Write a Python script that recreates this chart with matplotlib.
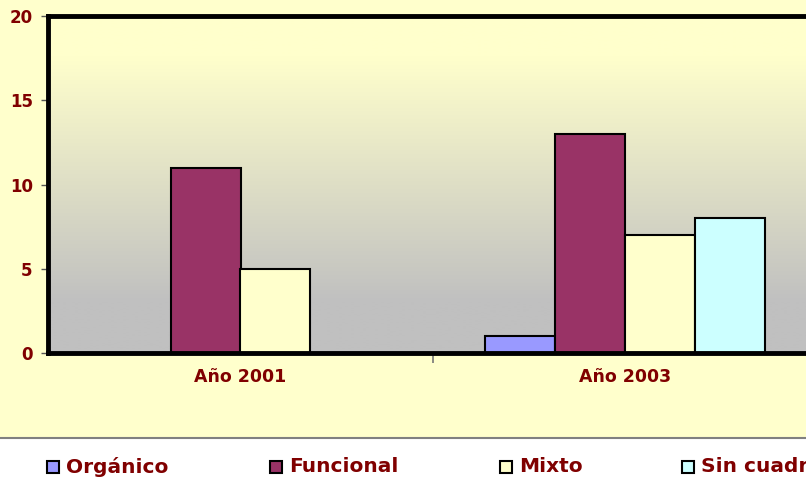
import numpy as np
import matplotlib
matplotlib.use("Agg")
import matplotlib.pyplot as plt
from matplotlib.patches import Rectangle
from matplotlib.colors import LinearSegmentedColormap
from matplotlib.lines import Line2D

# Data
categories = ["Año 2001", "Año 2003"]
series = ["Orgánico", "Funcional", "Mixto", "Sin cuadro"]
organico = [0, 1]
funcional = [11, 13]
mixto = [5, 7]
sin_cuadro = [0, 8]
y_ticks = [0, 5, 10, 15, 20]

values = [organico, funcional, mixto, sin_cuadro]
colors = ["#9999FF", "#993366", "#FFFFCC", "#CCFFFF"]
text_color = "#800000"

W, H = 806, 478
fig = plt.figure(figsize=(W / 100, H / 100), dpi=100)
fig.patch.set_facecolor("white")

# Yellow chart area with grey bottom border
bg = Rectangle((0, (H - 437) / H), 1, 437 / H, transform=fig.transFigure,
               facecolor="#FFFFCC", edgecolor="none", zorder=-2)
fig.patches.append(bg)
fig.add_artist(Line2D([0, 1], [(H - 437.5) / H] * 2, transform=fig.transFigure,
                      color="#808080", lw=1.5, zorder=-1))

left, right, top, bottom = 48, 818, 16, 353
ax = fig.add_axes([left / W, (H - bottom) / H, (right - left) / W, (bottom - top) / H])
ax.set_facecolor("none")

x = np.arange(len(categories))

# Vertical gradient behind the bars
cmap = LinearSegmentedColormap.from_list(
    "grad", [(0.0, "#FFFFCC"), (0.12, "#FFFFCC"), (0.85, "#C0C0C0"), (1.0, "#C0C0C0")])
grad = np.linspace(0, 1, 256).reshape(-1, 1)
ax.imshow(grad, cmap=cmap, aspect="auto", extent=[-0.5, len(categories) - 0.5, 0, 20],
          origin="upper", zorder=0, interpolation="bilinear")
ax.set_xlim(-0.5, len(categories) - 0.5)
ax.set_ylim(0, 20)

bw = 70 / 385
n = len(series)
for i, (name, vals, col) in enumerate(zip(series, values, colors)):
    offs = (i - (n - 1) / 2) * bw
    ax.bar(x + offs, vals, width=bw, color=col, edgecolor="black", linewidth=1.5,
           zorder=2, label=name)

for side in ["left", "top", "bottom"]:
    ax.spines[side].set_linewidth(3.5)
    ax.spines[side].set_color("black")
    ax.spines[side].set_zorder(5)
ax.spines["right"].set_visible(False)

ax.set_yticks(y_ticks)
ax.set_yticklabels([str(t) for t in y_ticks], fontsize=12, fontweight="bold",
                   color=text_color)
ax.tick_params(axis="y", length=5, width=1, color="#555555", pad=6)

ax.set_xticks([0.5])
ax.set_xticklabels([""])
ax.tick_params(axis="x", length=7, width=1.2, color="#777777", direction="out")
for xi, lab in zip(x, categories):
    ax.text(xi, -1.45, lab, ha="center", va="center", fontsize=12.5, fontweight="bold",
            color=text_color, transform=ax.transData, clip_on=False)

# Legend row
leg_y = (H - 467) / H
marker_x = [47, 270, 500, 682]
sq = 12
for mx, name, col in zip(marker_x, series, colors):
    fig.patches.append(Rectangle((mx / W, leg_y - sq / 2 / H), sq / W, sq / H,
                                 transform=fig.transFigure, facecolor=col,
                                 edgecolor="black", linewidth=1.5, zorder=3))
    fig.text((mx + sq + 7) / W, leg_y, name, ha="left", va="center", fontsize=14.5,
             fontweight="bold", color=text_color)

fig.savefig("out.png", dpi=100, facecolor=fig.get_facecolor())
